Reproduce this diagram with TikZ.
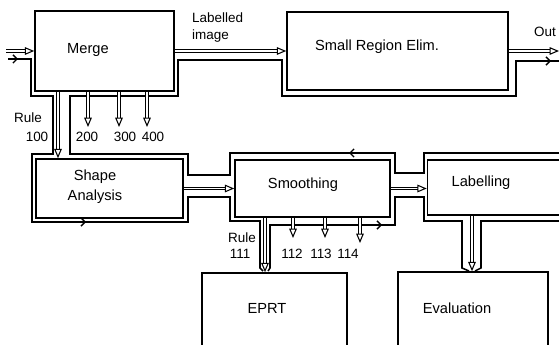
\documentclass[tikz,border=0pt]{standalone}
\usepackage{fontspec}
\setmainfont{Liberation Sans}
\usetikzlibrary{arrows.meta,calc}
\begin{document}
\begin{tikzpicture}[x=0.03cm,y=-0.03cm,
  wall/.style={line width=1.3pt, line join=miter},
  box/.style={draw, line width=1.3pt, inner sep=0pt},
  pipe/.style={double, double distance=1.5pt, line width=0.9pt, -{Triangle[open,length=8pt,width=6.5pt]}},
  tip/.style={line width=1.2pt, -{Straight Barb[length=3.5pt,width=7pt]}},
  lbl/.style={font=\fontsize{12.5}{17}\selectfont, inner sep=0pt},
  sml/.style={font=\fontsize{11.5}{14.5}\selectfont, inner sep=0pt, align=left}]
\useasboundingbox (0,0) rectangle (559,345);
\clip (0,0) rectangle (559,345);
% boxes
\node[box, minimum width=4.17cm, minimum height=2.4cm] (merge) at (104.5,51) {};
\node[box, minimum width=6.63cm, minimum height=2.34cm] (small) at (397.5,51) {};
\node[box, minimum width=4.41cm, minimum height=1.77cm] (shape) at (109.5,188.5) {};
\node[box, minimum width=4.65cm, minimum height=1.71cm] (smooth) at (312.5,188.5) {};
\node[box, minimum width=4.35cm, minimum height=1.65cm] (label) at (500,187.5) {};
\node[box, minimum width=4.35cm, minimum height=2.7cm] (eprt) at (274.5,318) {};
\node[box, minimum width=4.5cm, minimum height=2.7cm] (eval) at (473,317) {};
% texts
\node[lbl] (tmerge) at (88,50) {Merge};
\node[lbl] (tsmall) at (377,47) {Small Region Elim.};
\node[lbl, align=center] (tshape) at (95,187) {Shape\\Analysis};
\node[lbl] (tsmooth) at (303,185) {Smoothing};
\node[lbl] (tlabel) at (481,183) {Labelling};
\node[lbl] (teprt) at (267,308) {EPRT};
\node[lbl] (teval) at (457,308) {Evaluation};
\node[sml, anchor=west] (tli) at (192,28) {Labelled\\image};
\node[sml] (tout) at (545,32) {Out};
\node[sml] (tr100) at (28,118) {Rule};
\node[sml] (t100) at (37,137) {100};
\node[sml] (t200) at (87,137) {200};
\node[sml] (t300) at (125,137) {300};
\node[sml] (t400) at (153,137) {400};
\node[sml] (tr111) at (242,238) {Rule};
\node[sml] (t111) at (240,254) {111};
\node[sml] (t112) at (292,254) {112};
\node[sml] (t113) at (321,254) {113};
\node[sml] (t114) at (348,254) {114};
% coordinates
\coordinate (in) at (6,51);
\coordinate (out) at (559,51);
\coordinate (r100) at (58,0);
\coordinate (a200) at (88,127);
\coordinate (a300) at (119,127);
\coordinate (a400) at (147,127);
\coordinate (r111) at (265,0);
\coordinate (a112) at (293,238);
\coordinate (a113) at (325,238);
\coordinate (a114) at (360,243);
\coordinate (ev) at (472,0);
% control walls
\draw[wall] (565,153) -- (424,153) -- (424,173) -- (395,173) -- (395,153) -- (230,153) -- (230,175) -- (188,175) -- (188,154) -- (70,154) -- (70,96) -- (178,96) -- (178,60) -- (282,60) -- (282,96) -- (516,96) -- (516,61) -- (559,61);
\draw[wall] (8,59) -- (31,59) -- (31,96) -- (53,96) -- (53,154) -- (32,154) -- (32,222) -- (188,222) -- (188,197) -- (230,197) -- (230,221) -- (260,221) -- (260,268) -- (263,271);
\draw[wall] (268,271) -- (270,268) -- (270,225) -- (395,225) -- (395,197) -- (424,197) -- (424,221) -- (462,221) -- (462,268) -- (469,271);
\draw[wall] (475,271) -- (481,268) -- (481,221) -- (565,221);
% control arrow heads
\draw[tip] (8,59) -- (18,59);
\draw[tip] (60,222) -- (86,222);
\draw[tip] (300,225) -- (382,225);
\draw[tip] (380,153) -- (349,153);
\draw[tip] (530,61) -- (551,61);
% data pipes
\draw[pipe] (in) -- (merge.west);
\draw[pipe] (merge.east) -- (small.west);
\draw[pipe] (small.east) -- (out);
\draw[pipe] (r100 |- merge.south) -- (r100 |- shape.north);
\draw[pipe] (a200 |- merge.south) -- (a200);
\draw[pipe] (a300 |- merge.south) -- (a300);
\draw[pipe] (a400 |- merge.south) -- (a400);
\draw[pipe] (shape.east) -- (smooth.west);
\draw[pipe] (smooth.east) -- (smooth.east -| label.west);
\draw[pipe] (r111 |- smooth.south) -- (r111 |- eprt.north);
\draw[pipe] (a112 |- smooth.south) -- (a112);
\draw[pipe] (a113 |- smooth.south) -- (a113);
\draw[pipe] (a114 |- smooth.south) -- (a114);
\draw[pipe] (ev |- label.south) -- (ev |- eval.north);
\end{tikzpicture}
\end{document}
